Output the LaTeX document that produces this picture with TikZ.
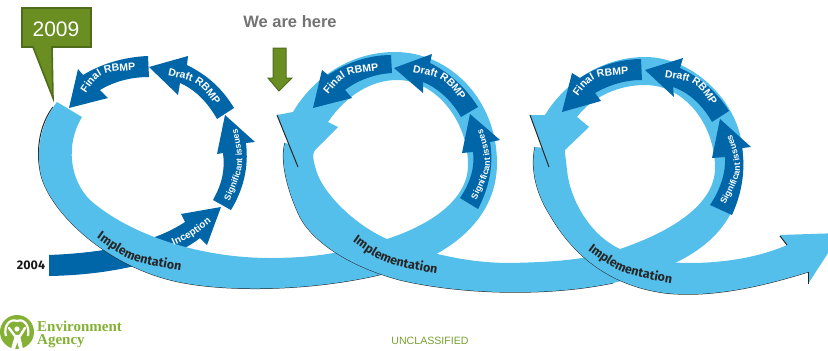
\documentclass[tikz,border=0pt]{standalone}
\usepackage{fontspec}
\setmainfont{Liberation Sans}
\newfontfamily\serifbold{Liberation Serif}
\newfontfamily\firaf{Fira Sans}
\usetikzlibrary{decorations.text}
\definecolor{ribbon}{HTML}{55BFEC}
\definecolor{deepblue}{HTML}{0066A8}
\definecolor{leaf}{HTML}{6B8E23}
\definecolor{leafdark}{HTML}{4F6B1C}
\definecolor{logogreen}{HTML}{84B135}
\tikzset{
  band/.style={fill=ribbon,draw=none},
  edgeline/.style={draw=black!85,line width=1pt},
  darkarrow/.style={fill=deepblue,draw=none},
  marker/.style={fill=leaf,draw=leafdark,line width=1.6pt,line join=miter},
  logotext/.style={text=logogreen,font=\serifbold\fontsize{15}{15}\selectfont\bfseries,anchor=west,inner sep=0pt}
}
\newcommand{\bendlabel}[5]{\path[decorate,decoration={text along path,text align=center,text={|#1|#2}}] #3 .. controls #4 .. #5;}
\newcommand{\whitefmt}{\fontsize{10.5}{10.5}\selectfont\bfseries\color{white}}
\newcommand{\sigfmt}{\fontsize{8.8}{8.8}\selectfont\bfseries\color{white}}
\newcommand{\incfmt}{\fontsize{10}{10}\selectfont\bfseries\color{white}}
\newcommand{\blackfmt}{\fontsize{12.5}{12.5}\selectfont\firaf\bfseries\color{black!85}}
\begin{document}
\begin{tikzpicture}[x=1pt,y=-1pt]
\useasboundingbox (0,0) rectangle (828,351);
\clip (0,0) rectangle (828,351);
% 2004 arrow
\path[darkarrow] (49,255) .. controls (100,253) and (150,245) .. (185,222) -- (181,214) -- (221,207) -- (207,245) -- (200,238) .. controls (170,262) and (110,275) .. (49,276) -- cycle;
% ribbon 1
\path[edgeline] (53,107) .. controls (40,124) and (35,150) .. (41,175) .. controls (50,212) and (110,272) .. (190,284) .. controls (240,292) and (320,290) .. (387,273);
\path[band] (57,102) .. controls (42,120) and (35,150) .. (41,175) .. controls (50,212) and (110,272) .. (190,284) .. controls (240,292) and (320,290) .. (387,273)
 .. controls (440,260) and (497,225) .. (497,163) .. controls (497,100) and (450,52) .. (395,52) .. controls (350,52) and (313,78) .. (293,112)
 -- (277,115) -- (298,167) -- (315,150) -- (338,127) -- (328,122)
 .. controls (345,97) and (370,80) .. (397,80) .. controls (435,80) and (468,120) .. (468,165) .. controls (468,200) and (430,225) .. (387,239)
 .. controls (350,251) and (320,258) .. (270,258) .. controls (200,258) and (130,235) .. (90,200) .. controls (70,180) and (65,145) .. (82,117) -- cycle;
% ribbon 2
\path[edgeline] (285,143) .. controls (280,160) and (287,190) .. (300,217) .. controls (315,245) and (355,268) .. (400,280) .. controls (455,293) and (540,298) .. (613,283);
\path[band] (285,143) .. controls (280,160) and (287,190) .. (300,217) .. controls (315,245) and (355,268) .. (400,280) .. controls (455,293) and (540,298) .. (613,283)
 .. controls (670,270) and (745,245) .. (743,157) .. controls (743,105) and (695,57) .. (645,57) .. controls (600,57) and (563,85) .. (545,115)
 -- (530,115) -- (549,167) -- (565,150) -- (589,127) -- (577,117)
 .. controls (592,97) and (618,85) .. (645,85) .. controls (685,85) and (715,125) .. (715,168) .. controls (715,205) and (670,232) .. (620,249)
 .. controls (585,260) and (555,262) .. (510,263) .. controls (465,263) and (425,252) .. (387,239) .. controls (355,225) and (325,195) .. (317,173) .. controls (313,160) and (312,155) .. (315,150) -- cycle;
\path[edgeline] (277,115) -- (298,167);
% ribbon 3
\path[edgeline] (535,147) .. controls (531,165) and (534,190) .. (550,215) .. controls (570,250) and (605,285) .. (665,293) .. controls (710,298) and (760,287) .. (808,272);
\path[band] (535,147) .. controls (531,165) and (534,190) .. (550,215) .. controls (570,250) and (605,285) .. (665,293) .. controls (710,298) and (760,287) .. (808,272)
 -- (808,284) -- (841,233) -- (780,235) -- (787,245)
 .. controls (765,255) and (730,263) .. (690,263) .. controls (660,263) and (640,257) .. (620,249) .. controls (590,235) and (570,200) .. (567,170) .. controls (566,160) and (565,155) .. (565,150) -- cycle;
\path[edgeline] (530,115) -- (549,167);
\path[edgeline] (780,236) -- (787,245);
\path[edgeline] (808,272) -- (808,284);
% loop 1 phase arrows
\path[darkarrow] (213,200) .. controls (223,182) and (225,168) .. (223,153) -- (217,154) -- (225,115) -- (255,142) -- (246,143) .. controls (249,168) and (243,190) .. (231,210) -- cycle;
\path[darkarrow] (234,108) .. controls (222,88) and (207,75) .. (187,65) -- (188,56) -- (149,67) -- (178,95) -- (180,83) .. controls (196,90) and (208,103) .. (217,119) -- cycle;
\path[darkarrow] (148,56) .. controls (125,57) and (103,63) .. (83,75) -- (78,69) -- (69,108) -- (108,98) -- (100,90) .. controls (115,81) and (132,77) .. (149,77) -- cycle;
% loop 2 phase arrows
\path[darkarrow] (391,55) .. controls (368,55) and (346,63) .. (328,75) -- (322,70) -- (313,108) -- (352,98) -- (345,90) .. controls (358,80) and (375,74) .. (392,73) -- cycle;
\path[darkarrow] (478,107) .. controls (466,88) and (450,73) .. (430,63) -- (432,54) -- (394,68) -- (423,93) -- (423,82) .. controls (438,88) and (452,101) .. (461,117) -- cycle;
\path[darkarrow] (460,198) .. controls (470,183) and (475,168) .. (473,152) -- (462,153) -- (470,114) -- (500,140) -- (490,142) .. controls (494,165) and (489,188) .. (478,209) -- cycle;
% loop 3 phase arrows
\path[darkarrow] (641,59) .. controls (620,59) and (598,66) .. (580,78) -- (572,73) -- (562,112) -- (601,101) -- (595,93) .. controls (609,85) and (625,80) .. (642,80) -- cycle;
\path[darkarrow] (729,111) .. controls (718,93) and (700,77) .. (680,68) -- (683,58) -- (645,70) -- (674,97) -- (673,87) .. controls (690,93) and (703,106) .. (712,122) -- cycle;
\path[darkarrow] (710,205) .. controls (720,190) and (726,173) .. (725,157) -- (712,158) -- (720,119) -- (751,147) -- (742,148) .. controls (746,172) and (741,195) .. (732,215) -- cycle;
% curved labels
\bendlabel{\whitefmt}{Final RBMP}{(84,96)}{(100,72)}{(139,70)}
\bendlabel{\whitefmt}{Draft RBMP}{(170,76)}{(198,82)}{(214,103)}
\bendlabel{\sigfmt}{Significant issues}{(229,202)}{(245,165)}{(237,128)}
\bendlabel{\incfmt}{Inception}{(172,246)}{(192,237)}{(213,221)}
\bendlabel{\blackfmt}{Implementation}{(94,236)}{(130,262)}{(184,271)}
\bendlabel{\whitefmt}{Final RBMP}{(326,97)}{(345,74)}{(382,70)}
\bendlabel{\whitefmt}{Draft RBMP}{(412,72)}{(444,78)}{(461,101)}
\bendlabel{\sigfmt}{Significant issues}{(474,204)}{(494,165)}{(481,125)}
\bendlabel{\blackfmt}{Implementation}{(350,240)}{(385,265)}{(440,274)}
\bendlabel{\whitefmt}{Final RBMP}{(575,100)}{(593,76)}{(633,74)}
\bendlabel{\whitefmt}{Draft RBMP}{(664,77)}{(696,82)}{(712,106)}
\bendlabel{\sigfmt}{Significant issues}{(724,207)}{(744,170)}{(731,132)}
\bendlabel{\blackfmt}{Implementation}{(585,248)}{(620,274)}{(675,284)}
% markers
\path[marker] (22,8) -- (91,8) -- (91,47) -- (52,47) -- (53,98) -- (33,47) -- (22,47) -- cycle;
\node[text=white,font=\fontsize{21}{21}\selectfont,anchor=center] (yearend) at (56,29) {2009};
\node[text=black!55,font=\fontsize{16.5}{16.5}\selectfont\bfseries,anchor=center] (here) at (290,22) {We are here};
\path[marker,line width=1pt] (273,48) -- (286,48) -- (286,78) -- (292,78) -- (279,91) -- (268,78) -- (273,78) -- cycle;
\node[text=black!90,font=\fontsize{12.5}{12.5}\selectfont\firaf\bfseries,anchor=center] (start) at (31,265) {2004};
\node[text=logogreen!90!black,font=\fontsize{10.6}{10.6}\selectfont,anchor=center] (class) at (430,341) {UNCLASSIFIED};
% logo
\fill[logogreen] (17,332) circle (17);
\draw[white,line width=2.2pt] (6,336) .. controls (3,326) and (10,318) .. (17,321) .. controls (24,318) and (30,326) .. (28,336);
\draw[white,line width=2.4pt,line cap=round] (9,328) -- (15,336) -- (20,336) -- (25,328);
\fill[white] (17,329) circle (2.6);
\fill[white] (15,335) -- (20,335) -- (23,349) -- (19,349) -- (17.5,342) -- (15,349) -- (11,349) -- cycle;
\node[logotext] (envtext) at (37,326) {Environment};
\node[logotext] (agencytext) at (37,341) {Agency};
\end{tikzpicture}
\end{document}
